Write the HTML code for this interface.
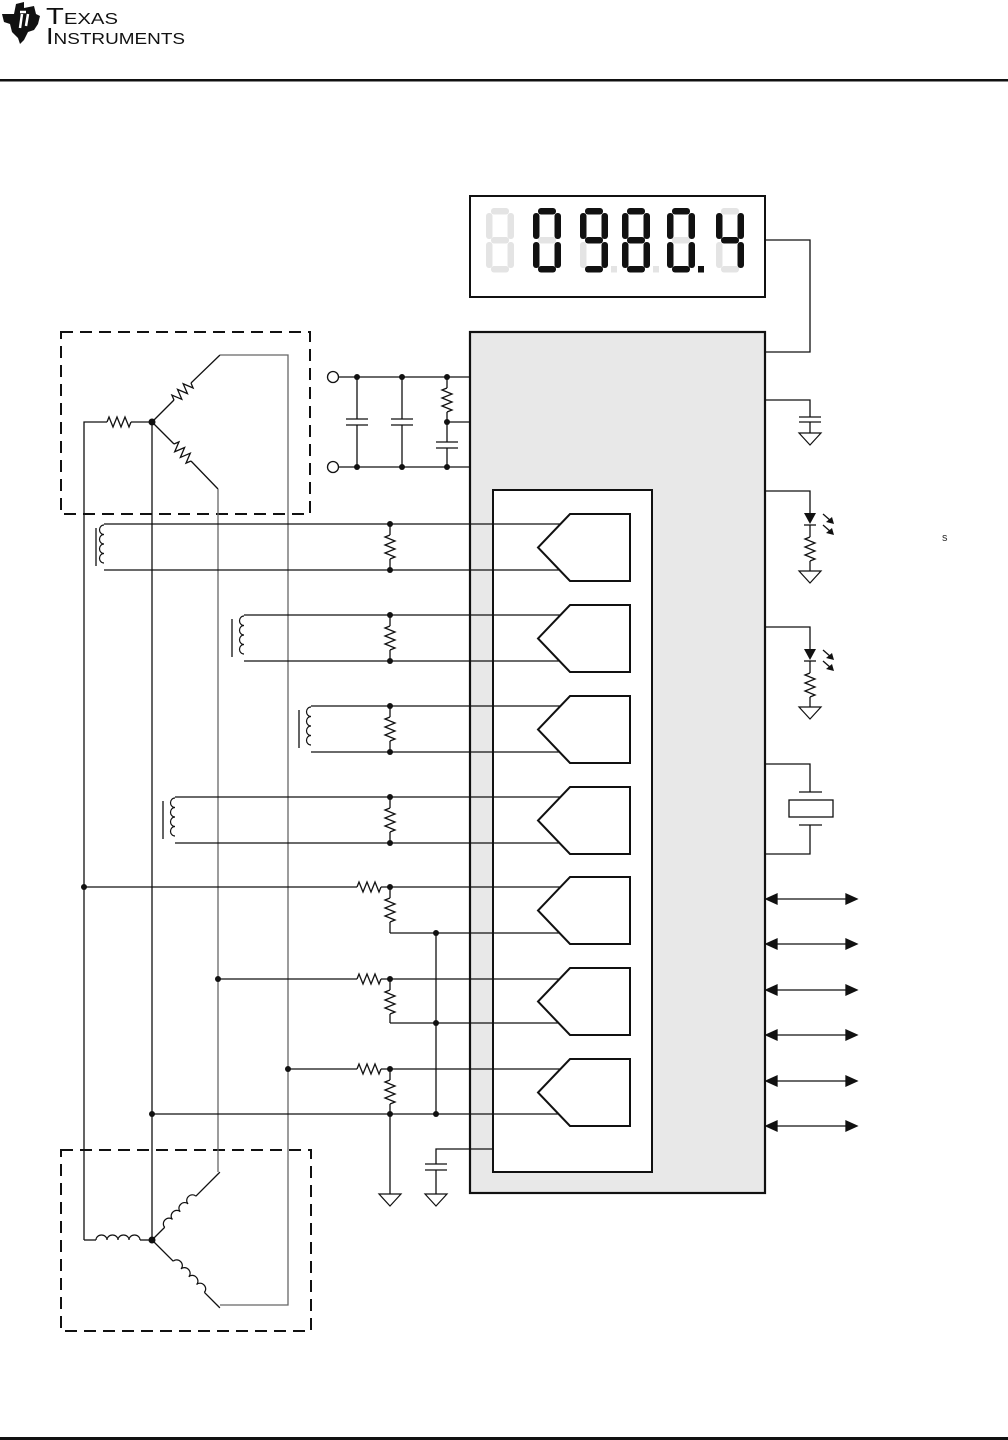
<!DOCTYPE html>
<html><head><meta charset="utf-8"><style>
html,body{margin:0;padding:0;background:#fff}
svg{display:block}
</style></head><body>
<svg width="1008" height="1440" viewBox="0 0 1008 1440" xmlns="http://www.w3.org/2000/svg">
<defs>
<rect id="sa" x="5" y="0" width="18" height="6.5" rx="3"/>
<rect id="sb" x="21.5" y="5" width="6.5" height="26" rx="3"/>
<rect id="sc" x="21.5" y="34" width="6.5" height="26" rx="3"/>
<rect id="sd" x="5" y="58" width="18" height="6.5" rx="3"/>
<rect id="se" x="0" y="34" width="6.5" height="26" rx="3"/>
<rect id="sf" x="0" y="5" width="6.5" height="26" rx="3"/>
<rect id="sg" x="5" y="29" width="18" height="6.5" rx="3"/>
<rect id="sp" x="31" y="58" width="6" height="6.5"/>
<path id="rv" d="M0,0 l-5,2 10,4 -10,4 10,4 -10,4 10,4 -5,2" fill="none" stroke="#111" stroke-width="1.3"/>
<path id="rh" d="M0,0 l2,-5 4,10 4,-10 4,10 4,-10 4,10 2,-5" fill="none" stroke="#111" stroke-width="1.3"/>
<path id="coilv" d="M0,0 a4.5,4.75 0 0 0 0,9.5 a4.5,4.75 0 0 0 0,9.5 a4.5,4.75 0 0 0 0,9.5 a4.5,4.75 0 0 0 0,9.5" fill="none" stroke="#111" stroke-width="1.2"/>
<path id="coilh" d="M0,0 a5.5,5 0 0 1 11,0 a5.5,5 0 0 1 11,0 a5.5,5 0 0 1 11,0 a5.5,5 0 0 1 11,0" fill="none" stroke="#111" stroke-width="1.2"/>
<polygon id="amp" points="32,0 92,0 92,67 32,67 0,33.5" fill="#fff" stroke="#111" stroke-width="2"/>
<polygon id="gnd" points="-11,0 11,0 0,12" fill="#fff" stroke="#111" stroke-width="1.2"/>
</defs>

<!-- Logo -->
<path d="M2,14 L14,14 L16,4 L24,2 L24,8 L34,6 L36,14 L40,16 L38,24 L34,30 L28,32 L24,40 L20,44 L18,38 L12,32 L10,24 L4,22 Z" fill="#111"/>
<path d="M20,12 L26,12 M22,14 L20,28 M28,14 L26,26" stroke="#fff" stroke-width="2.5"/>
<text x="46" y="24" font-family="Liberation Sans, sans-serif" font-size="23" font-variant="small-caps" fill="#111" textLength="72" lengthAdjust="spacingAndGlyphs">Texas</text>
<text x="46" y="44" font-family="Liberation Sans, sans-serif" font-size="23" font-variant="small-caps" fill="#111" textLength="139" lengthAdjust="spacingAndGlyphs">Instruments</text>
<rect x="0" y="79" width="1008" height="2.5" fill="#111"/>
<rect x="0" y="1437" width="1008" height="3" fill="#111"/>

<!-- Display -->
<rect x="470" y="196" width="295" height="101" fill="#fff" stroke="#111" stroke-width="2"/>
<g transform="translate(486,208)" fill="#e4e4e4"><use href="#sa"/><use href="#sb"/><use href="#sc"/><use href="#sd"/><use href="#se"/><use href="#sf"/><use href="#sg"/></g>
<g transform="translate(533,208)"><g fill="#111"><use href="#sa"/><use href="#sb"/><use href="#sc"/><use href="#sd"/><use href="#se"/><use href="#sf"/></g><use href="#sg" fill="#e4e4e4"/></g>
<g transform="translate(580,208)"><g fill="#111"><use href="#sa"/><use href="#sb"/><use href="#sc"/><use href="#sd"/><use href="#sf"/><use href="#sg"/></g><use href="#se" fill="#e4e4e4"/><use href="#sp" fill="#e4e4e4"/></g>
<g transform="translate(622,208)"><g fill="#111"><use href="#sa"/><use href="#sb"/><use href="#sc"/><use href="#sd"/><use href="#se"/><use href="#sf"/><use href="#sg"/></g><use href="#sp" fill="#e4e4e4"/></g>
<g transform="translate(667,208)"><g fill="#111"><use href="#sa"/><use href="#sb"/><use href="#sc"/><use href="#sd"/><use href="#se"/><use href="#sf"/><use href="#sp"/></g><use href="#sg" fill="#e4e4e4"/></g>
<g transform="translate(716,208)"><g fill="#111"><use href="#sb"/><use href="#sc"/><use href="#sf"/><use href="#sg"/></g><g fill="#e4e4e4"><use href="#sa"/><use href="#sd"/><use href="#se"/></g></g>
<polyline points="765,240 810,240 810,352 765,352" fill="none" stroke="#111" stroke-width="1.3"/>

<!-- Chip -->
<rect x="470" y="332" width="295" height="861" fill="#e8e8e8" stroke="#111" stroke-width="2.2"/>
<rect x="493" y="490" width="159" height="682" fill="#fff" stroke="#111" stroke-width="2"/>

<!-- Dashed boxes -->
<rect x="61" y="332" width="249" height="182" fill="none" stroke="#111" stroke-width="2" stroke-dasharray="12,7"/>
<rect x="61" y="1150" width="250" height="181" fill="none" stroke="#111" stroke-width="2" stroke-dasharray="12,7"/>

<g fill="none" stroke="#111" stroke-width="1.3">
<polyline points="84,1240 84,422 107,422"/><use href="#rh" x="107" y="422"/><line x1="131" y1="422" x2="152" y2="422"/>
<line x1="152" y1="422" x2="152" y2="1240"/>
<line x1="152" y1="422" x2="174" y2="400"/>
<g transform="translate(174,400) rotate(-45)"><use href="#rh"/></g>
<line x1="191" y1="383" x2="220" y2="355"/>
<polyline points="220,355 288,355 288,1305 220,1305" stroke="#666"/>
<line x1="152" y1="422" x2="174" y2="444"/>
<g transform="translate(174,444) rotate(45)"><use href="#rh"/></g>
<line x1="191" y1="461" x2="218" y2="489"/>
<polyline points="218,489 218,1172" stroke="#666"/>
<line x1="84" y1="1240" x2="96" y2="1240"/><use href="#coilh" x="96" y="1240"/><line x1="140" y1="1240" x2="152" y2="1240"/>
<g transform="translate(152,1240) rotate(-45)"><line x1="0" y1="0" x2="18" y2="0"/><use href="#coilh" x="18" y="0"/><line x1="62" y1="0" x2="96" y2="0"/></g>
<g transform="translate(152,1240) rotate(45)"><line x1="0" y1="0" x2="30" y2="0"/><use href="#coilh" x="30" y="0"/><line x1="74" y1="0" x2="96" y2="0"/></g>

<line x1="96" y1="528" x2="96" y2="566"/><use href="#coilv" x="104" y="525"/>
<polyline points="104,524 560,524"/><polyline points="104,570 560,570"/>
<line x1="232" y1="619" x2="232" y2="657"/><use href="#coilv" x="244" y="616"/>
<polyline points="244,615 560,615"/><polyline points="244,661 560,661"/>
<line x1="299" y1="710" x2="299" y2="748"/><use href="#coilv" x="311" y="707"/>
<polyline points="311,706 560,706"/><polyline points="311,752 560,752"/>
<line x1="163" y1="801" x2="163" y2="839"/><use href="#coilv" x="175" y="798"/>
<polyline points="175,797 560,797"/><polyline points="175,843 560,843"/>

<line x1="84" y1="887" x2="357" y2="887"/><use href="#rh" x="357" y="887"/><line x1="381" y1="887" x2="560" y2="887"/>
<line x1="218" y1="979" x2="357" y2="979"/><use href="#rh" x="357" y="979"/><line x1="381" y1="979" x2="560" y2="979"/>
<line x1="288" y1="1069" x2="357" y2="1069"/><use href="#rh" x="357" y="1069"/><line x1="381" y1="1069" x2="560" y2="1069"/>
<line x1="390" y1="933" x2="560" y2="933"/>
<polyline points="390,1023 560,1023"/>
<line x1="152" y1="1114" x2="560" y2="1114"/>
<line x1="436" y1="933" x2="436" y2="1114"/>
<line x1="390" y1="1114" x2="390" y2="1194"/>
<polyline points="493,1149 436,1149 436,1164"/>
<line x1="425" y1="1164" x2="447" y2="1164"/><line x1="425" y1="1170" x2="447" y2="1170"/>
<line x1="436" y1="1170" x2="436" y2="1194"/>
</g>
<use href="#gnd" x="390" y="1194"/><use href="#gnd" x="436" y="1194"/>

<g fill="none" stroke="#111" stroke-width="1.3">
<line x1="390" y1="524" x2="390" y2="535"/><use href="#rv" x="390" y="535"/><line x1="390" y1="559" x2="390" y2="570"/>
<line x1="390" y1="615" x2="390" y2="626"/><use href="#rv" x="390" y="626"/><line x1="390" y1="650" x2="390" y2="661"/>
<line x1="390" y1="706" x2="390" y2="717"/><use href="#rv" x="390" y="717"/><line x1="390" y1="741" x2="390" y2="752"/>
<line x1="390" y1="797" x2="390" y2="808"/><use href="#rv" x="390" y="808"/><line x1="390" y1="832" x2="390" y2="843"/>
<line x1="390" y1="887" x2="390" y2="898"/><use href="#rv" x="390" y="898"/><line x1="390" y1="922" x2="390" y2="933"/>
<line x1="390" y1="979" x2="390" y2="990"/><use href="#rv" x="390" y="990"/><line x1="390" y1="1014" x2="390" y2="1023"/>
<line x1="390" y1="1069" x2="390" y2="1080"/><use href="#rv" x="390" y="1080"/><line x1="390" y1="1104" x2="390" y2="1114"/>
</g>

<use href="#amp" x="538" y="514"/><use href="#amp" x="538" y="605"/><use href="#amp" x="538" y="696"/><use href="#amp" x="538" y="787"/><use href="#amp" x="538" y="877"/><use href="#amp" x="538" y="968"/><use href="#amp" x="538" y="1059"/>

<g fill="none" stroke="#111" stroke-width="1.3">
<circle cx="333" cy="377" r="5.5" fill="#fff"/><circle cx="333" cy="467" r="5.5" fill="#fff"/>
<line x1="339" y1="377" x2="470" y2="377"/><line x1="339" y1="467" x2="470" y2="467"/>
<line x1="357" y1="377" x2="357" y2="419"/><line x1="357" y1="425" x2="357" y2="467"/>
<line x1="346" y1="419" x2="368" y2="419"/><line x1="346" y1="425" x2="368" y2="425"/>
<line x1="402" y1="377" x2="402" y2="419"/><line x1="402" y1="425" x2="402" y2="467"/>
<line x1="391" y1="419" x2="413" y2="419"/><line x1="391" y1="425" x2="413" y2="425"/>
<line x1="447" y1="377" x2="447" y2="388"/><use href="#rv" x="447" y="388"/><line x1="447" y1="412" x2="447" y2="442"/>
<line x1="447" y1="422" x2="470" y2="422"/>
<line x1="436" y1="442" x2="458" y2="442"/><line x1="436" y1="448" x2="458" y2="448"/><line x1="447" y1="448" x2="447" y2="467"/>
</g>

<g fill="none" stroke="#111" stroke-width="1.3">
<polyline points="765,400 810,400 810,417"/>
<line x1="799" y1="417" x2="821" y2="417"/><line x1="799" y1="422" x2="821" y2="422"/><line x1="810" y1="422" x2="810" y2="433"/>
<polyline points="765,491 810,491 810,513"/><line x1="804" y1="525" x2="816" y2="525"/><line x1="810" y1="525" x2="810" y2="537"/><use href="#rv" x="810" y="537"/><line x1="810" y1="561" x2="810" y2="571"/>
<line x1="823" y1="514" x2="831" y2="521"/><line x1="823" y1="525" x2="831" y2="532"/>
<polyline points="765,627 810,627 810,649"/><line x1="804" y1="661" x2="816" y2="661"/><line x1="810" y1="661" x2="810" y2="673"/><use href="#rv" x="810" y="673"/><line x1="810" y1="697" x2="810" y2="707"/>
<line x1="823" y1="650" x2="831" y2="657"/><line x1="823" y1="661" x2="831" y2="668"/>
<polyline points="765,764 810,764 810,792"/><line x1="799" y1="792" x2="822" y2="792"/>
<rect x="789" y="800" width="44" height="17"/>
<line x1="799" y1="825" x2="822" y2="825"/><polyline points="810,825 810,854 765,854"/>
</g>
<polygon points="804,513 816,513 810,524" fill="#111"/>
<polygon points="804,649 816,649 810,660" fill="#111"/>
<polygon points="834,524 826,522 832,517" fill="#111"/><polygon points="834,535 826,533 832,528" fill="#111"/>
<polygon points="834,660 826,658 832,653" fill="#111"/><polygon points="834,671 826,669 832,664" fill="#111"/>
<use href="#gnd" x="810" y="433"/><use href="#gnd" x="810" y="571"/><use href="#gnd" x="810" y="707"/>
<text x="942" y="541" font-family="Liberation Sans, sans-serif" font-size="11" fill="#333">s</text>

<g stroke="#111" stroke-width="1.3" fill="#111">
<line x1="770" y1="899" x2="850" y2="899"/><polygon points="766,899 777,894 777,904"/><polygon points="857,899 846,894 846,904"/>
<line x1="770" y1="944" x2="850" y2="944"/><polygon points="766,944 777,939 777,949"/><polygon points="857,944 846,939 846,949"/>
<line x1="770" y1="990" x2="850" y2="990"/><polygon points="766,990 777,985 777,995"/><polygon points="857,990 846,985 846,995"/>
<line x1="770" y1="1035" x2="850" y2="1035"/><polygon points="766,1035 777,1030 777,1040"/><polygon points="857,1035 846,1030 846,1040"/>
<line x1="770" y1="1081" x2="850" y2="1081"/><polygon points="766,1081 777,1076 777,1086"/><polygon points="857,1081 846,1076 846,1086"/>
<line x1="770" y1="1126" x2="850" y2="1126"/><polygon points="766,1126 777,1121 777,1131"/><polygon points="857,1126 846,1121 846,1131"/>
</g>

<g fill="#111">
<circle cx="152" cy="422" r="3.5"/><circle cx="152" cy="1240" r="3.5"/>
<circle cx="357" cy="377" r="3"/><circle cx="402" cy="377" r="3"/><circle cx="447" cy="377" r="3"/>
<circle cx="357" cy="467" r="3"/><circle cx="402" cy="467" r="3"/><circle cx="447" cy="467" r="3"/><circle cx="447" cy="422" r="3"/>
<circle cx="390" cy="524" r="3"/><circle cx="390" cy="570" r="3"/><circle cx="390" cy="615" r="3"/><circle cx="390" cy="661" r="3"/>
<circle cx="390" cy="706" r="3"/><circle cx="390" cy="752" r="3"/><circle cx="390" cy="797" r="3"/><circle cx="390" cy="843" r="3"/>
<circle cx="390" cy="887" r="3"/><circle cx="390" cy="979" r="3"/><circle cx="390" cy="1069" r="3"/><circle cx="390" cy="1114" r="3"/>
<circle cx="436" cy="933" r="3"/><circle cx="436" cy="1023" r="3"/><circle cx="436" cy="1114" r="3"/>
<circle cx="84" cy="887" r="3"/><circle cx="218" cy="979" r="3"/><circle cx="288" cy="1069" r="3"/><circle cx="152" cy="1114" r="3"/>
</g>
</svg>
</body></html>
